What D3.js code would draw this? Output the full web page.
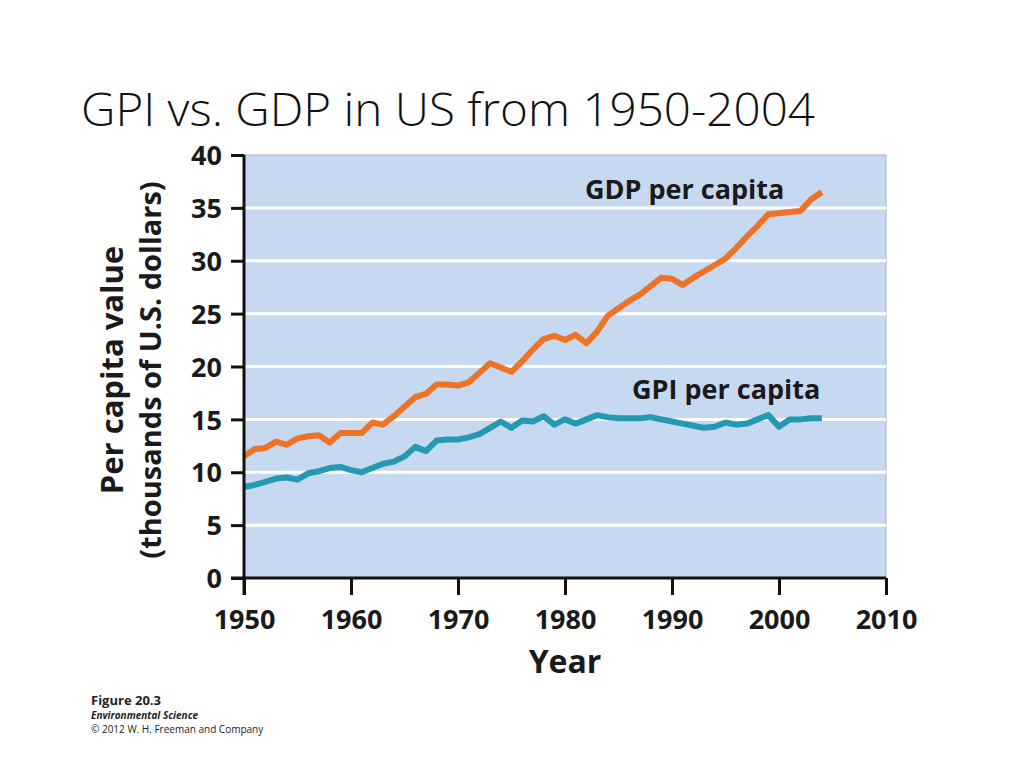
<!DOCTYPE html>
<html>
<head>
<meta charset="utf-8">
<script src="https://cdn.jsdelivr.net/npm/d3@7"></script>
<style>
  html, body { margin: 0; padding: 0; background: #ffffff; }
  svg { display: block; }
</style>
</head>
<body>
<svg id="chart" width="1024" height="768"></svg>
<script>
// ---- Data ----
const years = d3.range(1950, 2005);
const gdpPerCapita = [
  11.5, 12.2, 12.3, 12.9, 12.6, 13.2, 13.4, 13.5, 12.8, 13.7,
  13.7, 13.7, 14.7, 14.5, 15.3, 16.2, 17.1, 17.4, 18.3, 18.3,
  18.2, 18.5, 19.4, 20.3, 19.9, 19.5, 20.5, 21.6, 22.6, 22.9,
  22.5, 23.0, 22.2, 23.3, 24.8, 25.5, 26.2, 26.8, 27.6, 28.4,
  28.3, 27.7, 28.4, 29.0, 29.6, 30.2, 31.2, 32.3, 33.3, 34.4,
  34.5, 34.6, 34.7, 35.8, 36.5
];
const gpiPerCapita = [
  8.6, 8.8, 9.1, 9.4, 9.5, 9.3, 9.9, 10.1, 10.4, 10.5,
  10.2, 10.0, 10.4, 10.8, 11.0, 11.5, 12.4, 12.0, 13.0, 13.1,
  13.1, 13.3, 13.6, 14.2, 14.8, 14.2, 14.9, 14.8, 15.3, 14.5,
  15.0, 14.6, 15.0, 15.4, 15.2, 15.1, 15.1, 15.1, 15.2, 15.0,
  14.8, 14.6, 14.4, 14.2, 14.3, 14.7, 14.5, 14.6, 15.0, 15.4,
  14.3, 15.0, 15.0, 15.1, 15.1
];
const xTicks = [1950, 1960, 1970, 1980, 1990, 2000, 2010];
const yTicks = [0, 5, 10, 15, 20, 25, 30, 35, 40];
const titleText = "GPI vs. GDP in US from 1950-2004";
const yTitleLines = ["Per capita value", "(thousands of U.S. dollars)"];
const xTitle = "Year";
const seriesLabels = ["GDP per capita", "GPI per capita"];
const footerLines = ["Figure 20.3", "Environmental Science", "\u00A9 2012 W. H. Freeman and Company"];

// ---- Layout ----
const svg = d3.select("#chart");
const plot = { left: 244, right: 886, top: 155, bottom: 578 };
const x = d3.scaleLinear().domain([1950, 2010]).range([plot.left, plot.right]);
const y = d3.scaleLinear().domain([0, 40]).range([plot.bottom, plot.top]);
const boldFont = "'Open Sans', 'Noto Sans', 'DejaVu Sans', sans-serif";

// Title
svg.append("text")
  .attr("x", 81).attr("y", 126)
  .attr("font-family", "'Open Sans', 'Lato', 'Noto Sans', sans-serif")
  .attr("font-weight", 300)
  .attr("font-size", 46)
  .attr("fill", "#111")
  .attr("textLength", 734)
  .attr("lengthAdjust", "spacingAndGlyphs")
  .text(titleText);

// Plot background
svg.append("rect")
  .attr("x", plot.left).attr("y", plot.top)
  .attr("width", plot.right - plot.left).attr("height", plot.bottom - plot.top)
  .attr("fill", "#c6d9f1")
  .attr("stroke", "#a9b4c2").attr("stroke-width", 1);

// Gridlines
svg.append("g").selectAll("line")
  .data(yTicks.filter(v => v > 0 && v < 40))
  .join("line")
  .attr("x1", plot.left).attr("x2", plot.right)
  .attr("y1", d => y(d)).attr("y2", d => y(d))
  .attr("stroke", "#ffffff").attr("stroke-width", 3);

// Lines
const line = d3.line().x((d, i) => x(years[i])).y(d => y(d));
svg.append("path").datum(gdpPerCapita)
  .attr("d", line).attr("fill", "none")
  .attr("stroke", "#ee7326").attr("stroke-width", 6)
  .attr("stroke-linejoin", "round");
svg.append("path").datum(gpiPerCapita)
  .attr("d", line).attr("fill", "none")
  .attr("stroke", "#2499b1").attr("stroke-width", 6)
  .attr("stroke-linejoin", "round");

// Axes
const yAxis = svg.append("g")
  .attr("transform", `translate(${plot.left},0)`)
  .call(d3.axisLeft(y).tickValues(yTicks).tickSize(13).tickPadding(9).tickFormat(d3.format("d")));
const xAxis = svg.append("g")
  .attr("transform", `translate(0,${plot.bottom})`)
  .call(d3.axisBottom(x).tickValues(xTicks).tickSize(17).tickPadding(14).tickFormat(d3.format("d")));
[yAxis, xAxis].forEach(a => {
  a.select(".domain").attr("stroke", "#111").attr("stroke-width", 3);
  a.selectAll(".tick line").attr("stroke", "#111").attr("stroke-width", 3);
  a.selectAll(".tick text")
    .attr("font-family", boldFont).attr("font-weight", 700)
    .attr("font-size", 27).attr("fill", "#1a1a1a");
});
yAxis.select(".domain").attr("d", `M0,${plot.top}V${plot.bottom + 17}`);
xAxis.select(".domain").attr("d", `M${plot.left - 13},0H${plot.right}`);
xAxis.selectAll(".tick text").attr("dy", "0.75em");
yAxis.selectAll(".tick text").attr("dy", "0.36em");

// Axis titles
const yt = svg.append("text")
  .attr("transform", "translate(0,370) rotate(-90)")
  .attr("font-family", boldFont).attr("font-weight", 700)
  .attr("fill", "#1a1a1a").attr("text-anchor", "middle");
yt.append("tspan").attr("x", 0).attr("y", 123).attr("font-size", 31).text(yTitleLines[0]);
yt.append("tspan").attr("x", 0).attr("y", 161).attr("font-size", 29).text(yTitleLines[1]);

svg.append("text")
  .attr("x", x(1980)).attr("y", 673)
  .attr("text-anchor", "middle")
  .attr("font-family", boldFont).attr("font-weight", 700)
  .attr("font-size", 32).attr("fill", "#1a1a1a")
  .text(xTitle);

// Series labels
svg.append("text")
  .attr("x", 585).attr("y", 199)
  .attr("font-family", boldFont).attr("font-weight", 700)
  .attr("font-size", 27).attr("fill", "#1a1a1a")
  .text(seriesLabels[0]);
svg.append("text")
  .attr("x", 632).attr("y", 399)
  .attr("font-family", boldFont).attr("font-weight", 700)
  .attr("font-size", 27).attr("fill", "#1a1a1a")
  .text(seriesLabels[1]);

// Footer
svg.append("text").attr("x", 91).attr("y", 705)
  .attr("font-family", boldFont).attr("font-weight", 700)
  .attr("font-size", 13).attr("fill", "#222").text(footerLines[0]);
svg.append("text").attr("x", 91).attr("y", 719)
  .attr("font-family", boldFont).attr("font-weight", 700).attr("font-style", "italic")
  .attr("font-size", 10).attr("fill", "#222").text(footerLines[1]);
svg.append("text").attr("x", 91).attr("y", 733)
  .attr("font-family", boldFont)
  .attr("font-size", 10).attr("fill", "#222").text(footerLines[2]);
</script>
</body>
</html>
